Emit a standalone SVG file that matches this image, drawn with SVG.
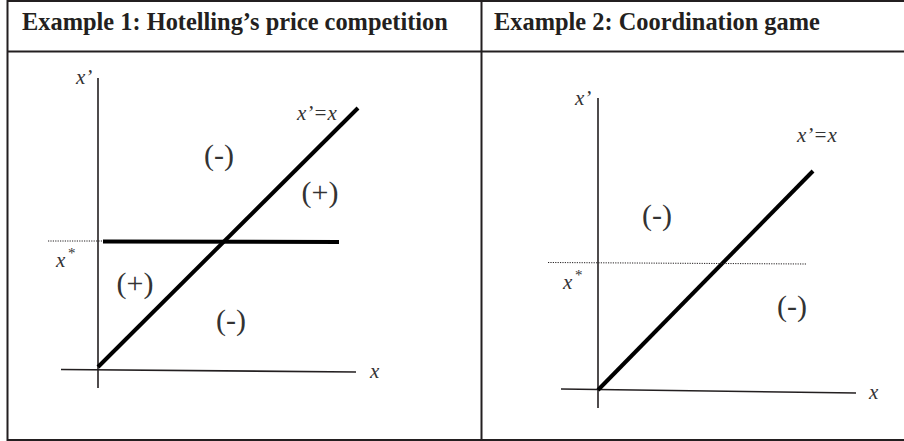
<svg xmlns="http://www.w3.org/2000/svg" width="904" height="441" viewBox="0 0 904 441">
<style>
.frame{stroke:#231f20;stroke-width:2;fill:none}
.axis{stroke:#231f20;stroke-width:1.6;fill:none}
.thick{stroke:#000;stroke-width:4;fill:none;stroke-linecap:butt}
.dot{stroke:#231f20;stroke-width:1;stroke-dasharray:1.2,1.2;fill:none}
.head{font-family:"Liberation Serif",serif;font-weight:bold;font-size:24.4px;fill:#231f20}
.lab{font-family:"Liberation Serif",serif;font-style:italic;font-size:21px;fill:#333}
.sup{font-family:"Liberation Serif",serif;font-size:15px;fill:#333}
.sign{font-family:"Liberation Serif",serif;font-size:30px;fill:#333;text-anchor:middle}
</style>
<rect width="904" height="441" fill="#fff"/>
<g id="table">
<line class="frame" x1="7" y1="1" x2="904" y2="1"/>
<line class="frame" x1="7" y1="51.5" x2="904" y2="51.5"/>
<line class="frame" x1="7" y1="440" x2="904" y2="440"/>
<line class="frame" x1="7.5" y1="0" x2="7.5" y2="441"/>
<line class="frame" x1="481.5" y1="0" x2="481.5" y2="441"/>
<text class="head" x="22" y="30">Example 1: Hotelling’s price competition</text>
<text class="head" x="494" y="30">Example 2: Coordination game</text>
</g>
<g id="panel1">
<g id="axes1">
<line class="axis" x1="98" y1="78" x2="98" y2="388"/>
<line class="axis" x1="61" y1="369.5" x2="356" y2="372"/>
</g>
<g id="connectors1">
<line class="thick" x1="98" y1="367" x2="358" y2="108"/>
<line class="thick" x1="103" y1="241.5" x2="339" y2="242"/>
<line class="dot" x1="48" y1="241" x2="103" y2="241"/>
</g>
<text class="lab" x="76" y="84">x’</text>
<text class="lab" x="56" y="267">x</text><text class="sup" x="68" y="258">*</text>
<text class="lab" x="297" y="120">x’=x</text>
<text class="lab" x="370" y="378">x</text>
<text class="sign" x="219" y="165">(-)</text>
<text class="sign" x="320" y="202">(+)</text>
<text class="sign" x="135" y="293">(+)</text>
<text class="sign" x="231" y="330">(-)</text>
</g>
<g id="panel2">
<g id="axes2">
<line class="axis" x1="598" y1="98" x2="598" y2="408"/>
<line class="axis" x1="561" y1="389" x2="856" y2="393"/>
</g>
<g id="connectors2">
<line class="thick" x1="598" y1="390" x2="813" y2="171"/>
<line class="dot" x1="548" y1="262.5" x2="806" y2="264"/>
</g>
<text class="lab" x="575" y="105">x’</text>
<text class="lab" x="563" y="289">x</text><text class="sup" x="575" y="280">*</text>
<text class="lab" x="797" y="142">x’=x</text>
<text class="lab" x="869" y="399">x</text>
<text class="sign" x="657" y="225">(-)</text>
<text class="sign" x="792" y="316">(-)</text>
</g>
</svg>
